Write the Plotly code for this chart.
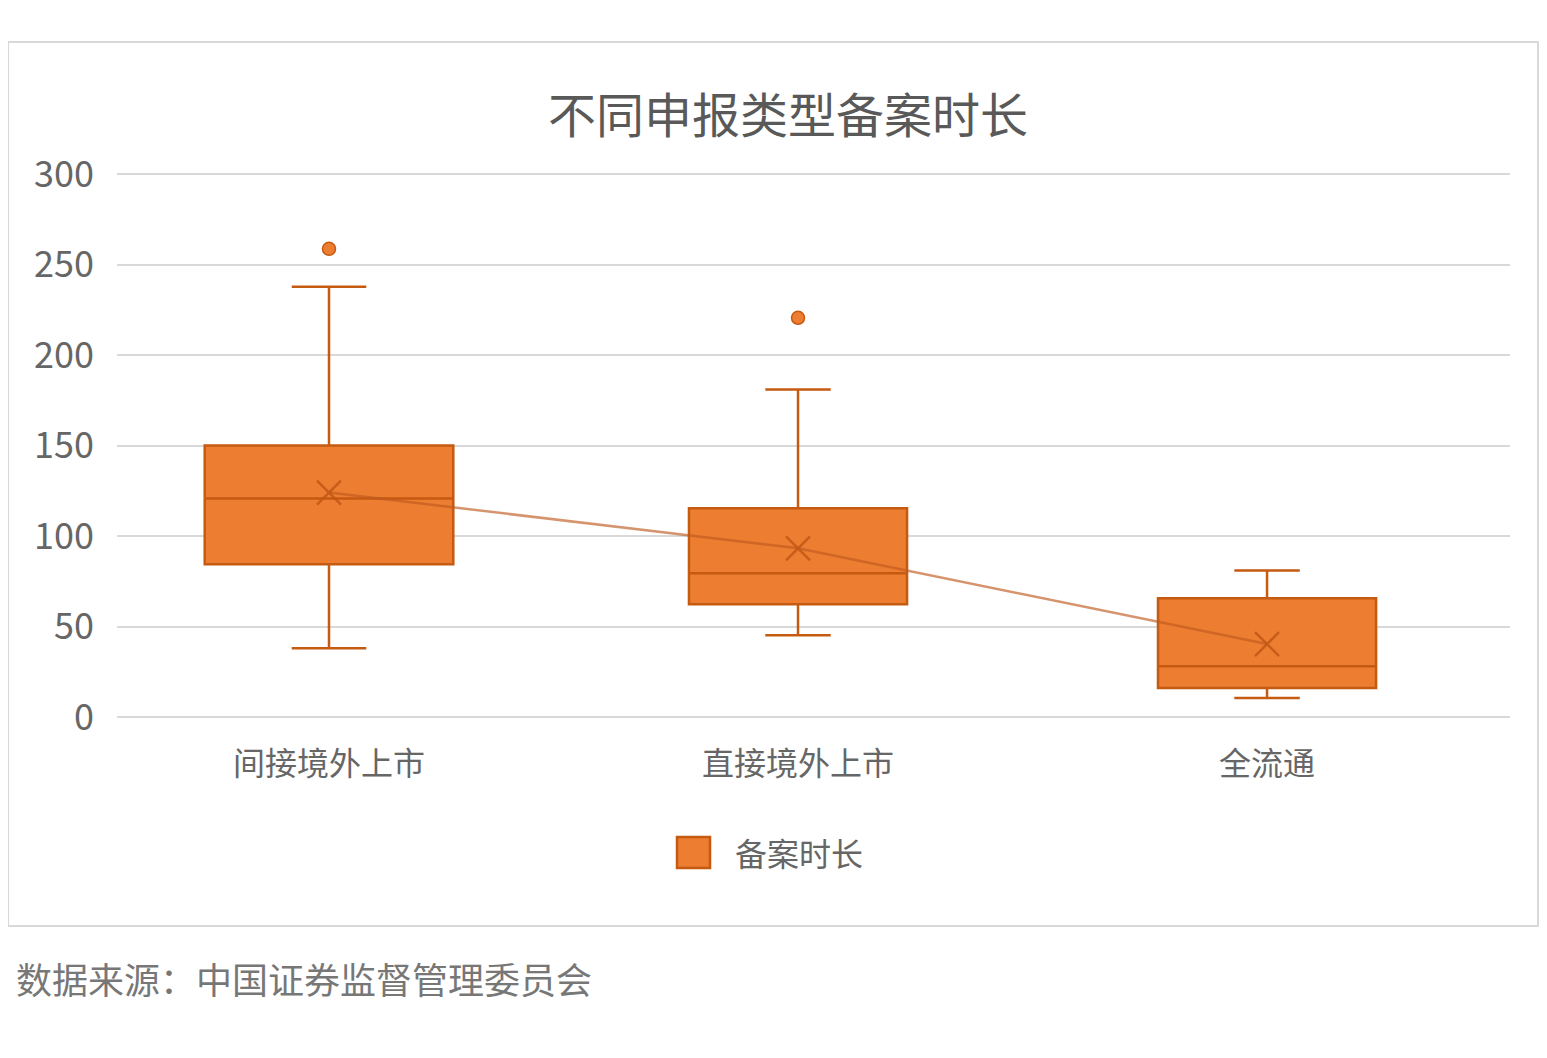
import plotly.graph_objects as go

categories = ["间接境外上市", "直接境外上市", "全流通"]
q1 = [84.4, 62.3, 16.0]
median = [120.8, 79.4, 28.1]
q3 = [150.0, 115.3, 65.6]
lower = [38.0, 45.2, 10.5]
upper = [237.7, 181.0, 81.0]
means = [124.0, 93.2, 40.3]
outlier_cat = [0, 1]
outlier_val = [258.7, 220.6]
box_widths = [0.53, 0.465, 0.465]
series_name = "备案时长"

fill = "#ED7D31"
edge = "#C55A11"
text_col = "#666666"
font = "Noto Sans CJK SC"

fig = go.Figure()

for i, cat in enumerate(categories):
    fig.add_trace(go.Box(
        x=[i], q1=[q1[i]], median=[median[i]], q3=[q3[i]],
        lowerfence=[lower[i]], upperfence=[upper[i]],
        width=box_widths[i], whiskerwidth=0.3,
        fillcolor=fill, line=dict(color=edge, width=2.5),
        name=series_name, showlegend=False,
        boxpoints=False, hoverinfo="skip",
    ))

# line through the means
fig.add_trace(go.Scatter(
    x=list(range(len(categories))), y=means, mode="lines",
    line=dict(color="rgba(190,90,30,0.65)", width=2.5),
    showlegend=False, hoverinfo="skip",
))
fig.add_trace(go.Scatter(
    x=list(range(len(categories))), y=means, mode="markers",
    marker=dict(symbol="x-thin-open", size=24, color="rgba(190,85,20,0.8)",
                line=dict(color="rgba(190,85,20,0.8)", width=2.5)),
    showlegend=False, hoverinfo="skip",
))
fig.add_trace(go.Scatter(
    x=outlier_cat, y=outlier_val, mode="markers",
    marker=dict(color=fill, size=13, line=dict(color=edge, width=1.5)),
    showlegend=False, hoverinfo="skip",
))

fig.update_layout(
    width=1547, height=1058,
    margin=dict(l=109, r=45, t=165, b=349),
    paper_bgcolor="white", plot_bgcolor="white",
    font=dict(family=font, color=text_col),
    showlegend=False,
    xaxis=dict(range=[-0.452, 2.518], tickvals=[0, 1, 2], ticktext=categories,
               showgrid=False, zeroline=False, showline=False,
               tickfont=dict(size=32, color=text_col), ticks="", ticklabelstandoff=25),
    yaxis=dict(range=[0, 300.6], tickvals=[0, 50, 100, 150, 200, 250, 300],
               showgrid=True, gridcolor="#D9D9D9", gridwidth=2,
               zeroline=True, zerolinecolor="#D9D9D9", zerolinewidth=2,
               showline=False, tickfont=dict(size=36, color=text_col),
               ticks="", ticklabelstandoff=22),
)

fig.add_annotation(text="不同申报类型备案时长", xref="paper", yref="paper",
                   x=0.482, y=1.113, xanchor="center", yanchor="middle",
                   showarrow=False, font=dict(size=48, color="#595959"))
fig.add_annotation(text="数据来源：中国证券监督管理委员会", xref="paper", yref="paper",
                   x=-0.0739, y=-0.48, xanchor="left", yanchor="middle",
                   showarrow=False, font=dict(size=36, color="#777777"))

# legend drawn by hand so the swatch matches the size in the original
fig.add_shape(type="rect", xref="paper", yref="paper",
              x0=(677 - 117) / 1393, x1=(710 - 117) / 1393,
              y0=(717 - 868) / 544, y1=(717 - 837) / 544,
              fillcolor=fill, line=dict(color=edge, width=2.5))
fig.add_annotation(text=series_name, xref="paper", yref="paper",
                   x=(733 - 117) / 1393, y=(717 - 852) / 544, xanchor="left", yanchor="middle",
                   showarrow=False, font=dict(size=32, color=text_col))

fig.add_shape(type="rect", xref="paper", yref="paper",
              x0=-0.0782, x1=1.0201, y0=-0.3842, y1=1.2408,
              line=dict(color="#D9D9D9", width=2), fillcolor="rgba(0,0,0,0)", layer="below")

fig.write_html("out.html")
